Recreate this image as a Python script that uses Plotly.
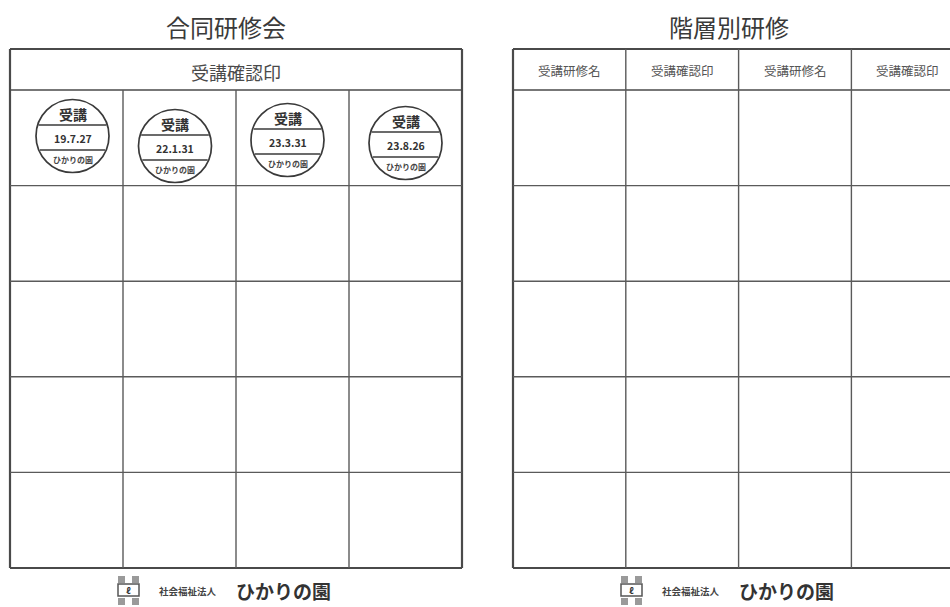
import math
import plotly.graph_objects as go

# ---------------- data ----------------
titles = ["合同研修会", "階層別研修"]
left_header = "受講確認印"
right_headers = ["受講研修名", "受講確認印", "受講研修名", "受講確認印"]
stamp_dates = ["19.7.27", "22.1.31", "23.3.31", "23.8.26"]
stamp_top = "受講"
stamp_bottom = "ひかりの園"
footer_org = "社会福祉法人"
footer_name = "ひかりの園"
n_body_rows = 5

# ---------------- layout constants ----------------
W, H = 950, 607
FONT = "Noto Sans CJK JP"
LINE = "#4a4a4a"
TXT = "#3a3a3a"
top_y = 49
header_h = 41
row_h = 95.6
tables = [dict(x0=10, col_w=113.0), dict(x0=513, col_w=112.8)]
stamp_offsets = [(6, 46), (-4.5, 56), (-5, 50), (0, 53)]  # (dx from col centre, dy from header bottom)
stamp_r = 36.5

fig = go.Figure()
shapes = []
annotations = []


def line(x0, y0, x1, y1, w=1.4, color=LINE):
    shapes.append(dict(type="line", xref="x", yref="y", x0=x0, y0=y0, x1=x1, y1=y1,
                       line=dict(color=color, width=w)))


def text(x, y, s, size, color=TXT, xanchor="center", weight="normal"):
    annotations.append(dict(x=x, y=y, xref="x", yref="y", text=s, showarrow=False,
                            xanchor=xanchor, yanchor="middle",
                            font=dict(family=FONT, size=size, color=color, weight=weight)))


bottom_y = top_y + header_h + n_body_rows * row_h

for ti, t in enumerate(tables):
    x0 = t["x0"]
    cw = t["col_w"]
    ncol = 4
    x1 = x0 + ncol * cw
    cx_mid = x0 + ncol * cw / 2
    # title
    text(x0 + 216, 26, titles[ti], 24, color="#3a3a3a")
    # outer border
    line(x0, top_y, x1, top_y, w=2.2)
    line(x0, bottom_y, x1, bottom_y, w=2.2)
    line(x0, top_y, x0, bottom_y, w=2.2)
    line(x1, top_y, x1, bottom_y, w=2.2)
    # header bottom
    hb = top_y + header_h
    line(x0, hb, x1, hb, w=1.6)
    # body rows
    for r in range(1, n_body_rows):
        yy = hb + r * row_h
        line(x0, yy, x1, yy, w=1.4, color="#5a5a5a")
    # columns
    for c in range(1, ncol):
        xx = x0 + c * cw
        ys = hb if ti == 0 else top_y
        line(xx, ys, xx, bottom_y, w=1.4, color="#5a5a5a")
    # header text
    if ti == 0:
        text(cx_mid, top_y + header_h / 2 + 2, left_header, 18, color="#4a4a4a")
    else:
        for c, lab in enumerate(right_headers):
            text(x0 + (c + 0.5) * cw, top_y + header_h / 2 + 1, lab, 12.5, color="#555555")
    # footer
    fx = x0 + 108
    fy = bottom_y + 22
    # small logo made of squares
    for (dx, dy, s) in [(0, -14, 7), (14, -14, 7), (0, 8, 7), (14, 8, 7)]:
        shapes.append(dict(type="rect", xref="x", yref="y", x0=fx + dx, y0=fy + dy,
                           x1=fx + dx + s, y1=fy + dy + s, line=dict(width=0),
                           fillcolor="#9a9a9a"))
    shapes.append(dict(type="rect", xref="x", yref="y", x0=fx, y0=fy - 6, x1=fx + 21, y1=fy + 6,
                       line=dict(color="#555555", width=1.5), fillcolor="#ffffff"))
    text(fx + 10.5, fy, "<b>ℓ</b>", 9, color="#333333")
    text(x0 + 147, fy + 1, footer_org, 9.5, color="#444444", xanchor="left", weight="bold")
    text(x0 + 224, fy, footer_name, 19, color="#333333", xanchor="left", weight="bold")

# stamps in the left table
t = tables[0]
hb = top_y + header_h
for i, d in enumerate(stamp_dates):
    cx = t["x0"] + (i + 0.5) * t["col_w"] + stamp_offsets[i][0]
    cy = hb + stamp_offsets[i][1]
    r = stamp_r
    shapes.append(dict(type="circle", xref="x", yref="y", x0=cx - r, y0=cy - r, x1=cx + r, y1=cy + r,
                       line=dict(color="#3a3a3a", width=1.7)))
    for dy in (-11, 14):
        hw = math.sqrt(r * r - dy * dy) - 1
        line(cx - hw, cy + dy, cx + hw, cy + dy, w=1.5, color="#3a3a3a")
    text(cx, cy - 22, stamp_top, 14, color="#333333", weight="bold")
    text(cx, cy + 2, d, 10.5, color="#333333", weight="bold")
    text(cx, cy + 23, stamp_bottom, 8, color="#444444", weight="bold")

# invisible trace to set up the axes
fig.add_trace(go.Scatter(x=[0, W], y=[0, H], mode="markers", marker=dict(opacity=0),
                         hoverinfo="skip", showlegend=False))

fig.update_layout(
    width=W, height=H,
    margin=dict(l=0, r=0, t=0, b=0),
    paper_bgcolor="white", plot_bgcolor="white",
    shapes=shapes, annotations=annotations,
    xaxis=dict(range=[0, W], visible=False, fixedrange=True),
    yaxis=dict(range=[H, 0], visible=False, fixedrange=True),
    showlegend=False,
)

fig.write_html("out.html", config={"displayModeBar": False},
               post_script="document.body.style.margin='0px';document.body.style.overflow='hidden';")
